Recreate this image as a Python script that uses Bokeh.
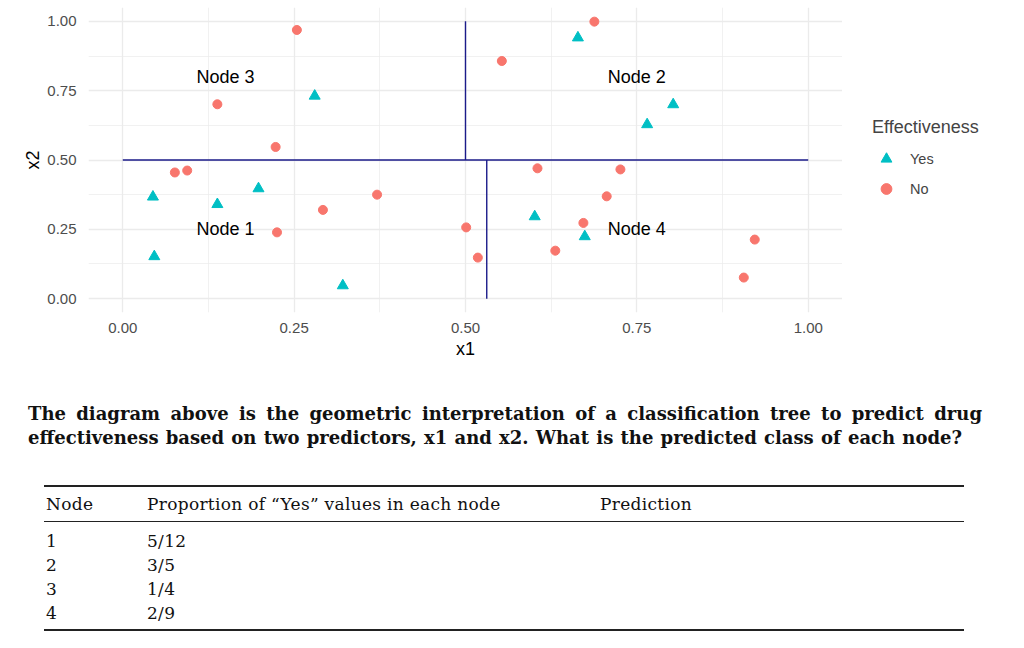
from bokeh.plotting import figure
from bokeh.models import FixedTicker, Legend, LegendItem, Div, Range1d
from bokeh.layouts import column, row
from bokeh.embed import file_html
from bokeh.resources import INLINE
from bokeh.core.properties import value

# ---- data ----
yes_x1 = [0.280, 0.044, 0.138, 0.198, 0.046, 0.321, 0.664, 0.803, 0.765, 0.601, 0.674]
yes_x2 = [0.731, 0.367, 0.340, 0.397, 0.152, 0.047, 0.941, 0.700, 0.628, 0.296, 0.224]
no_x1 = [0.254, 0.138, 0.223, 0.076, 0.094, 0.292, 0.371, 0.225, 0.501, 0.518,
         0.688, 0.553, 0.605, 0.726, 0.706, 0.672, 0.631, 0.922, 0.906]
no_x2 = [0.969, 0.701, 0.547, 0.455, 0.462, 0.320, 0.375, 0.239, 0.257, 0.148,
         0.999, 0.857, 0.470, 0.466, 0.369, 0.273, 0.173, 0.213, 0.076]

split_x0 = [0.0, 0.5, 0.531]
split_y0 = [0.5, 0.5, 0.0]
split_x1 = [1.0, 0.5, 0.531]
split_y1 = [0.5, 1.0, 0.5]

node_labels = ["Node 1", "Node 2", "Node 3", "Node 4"]
node_x = [0.15, 0.75, 0.15, 0.75]
node_y = [0.25, 0.80, 0.80, 0.25]

ticks = [0.0, 0.25, 0.5, 0.75, 1.0]
minor_ticks = [0.125, 0.375, 0.625, 0.875]
tick_labels = ["0.00", "0.25", "0.50", "0.75", "1.00"]

legend_title = "Effectiveness"
class_labels = ["Yes", "No"]

question_line1 = ("The diagram above is the geometric interpretation of a classification "
                  "tree to predict drug")
question_line2 = ("effectiveness based on two predictors, x1 and x2. What is the predicted "
                  "class of each node?")
table_headers = ["Node", "Proportion of \u201cYes\u201d values in each node", "Prediction"]
table_nodes = ["1", "2", "3", "4"]
table_props = ["5/12", "3/5", "1/4", "2/9"]

SANS = "Liberation Sans"
YES_COLOR = "#00BFC4"
NO_COLOR = "#F8766D"

# ---- main plot ----
p = figure(width=842, height=367,
           x_range=Range1d(-0.05, 1.05), y_range=Range1d(-0.05, 1.05),
           output_backend="svg", toolbar_location=None,
           min_border_left=88, min_border_top=7, min_border_bottom=55, min_border_right=0,
           background_fill_color="white", border_fill_color="white",
           outline_line_color=None)

for ax in (p.xaxis[0], p.yaxis[0]):
    ax.ticker = FixedTicker(ticks=ticks, minor_ticks=minor_ticks)
    ax.major_label_overrides = dict(zip(ticks, tick_labels))
    ax.axis_line_color = None
    ax.major_tick_line_color = None
    ax.minor_tick_line_color = None
    ax.major_tick_out = 0
    ax.major_tick_in = 0
    ax.major_label_text_font = SANS
    ax.major_label_text_font_size = "15px"
    ax.major_label_text_color = "#4D4D4D"
    ax.axis_label_text_font = SANS
    ax.axis_label_text_font_style = "normal"
    ax.axis_label_text_font_size = "18px"
    ax.axis_label_text_color = "black"

p.xaxis.axis_label = "x1"
p.yaxis.axis_label = "x2"
p.xaxis.major_label_standoff = 6
p.xaxis.axis_label_standoff = 3
p.yaxis.major_label_standoff = 8
p.yaxis.axis_label_standoff = 1

for g in (p.xgrid[0], p.ygrid[0]):
    g.grid_line_color = "#EBEBEB"
    g.grid_line_width = 1.3
    g.minor_grid_line_color = "#EBEBEB"
    g.minor_grid_line_width = 0.7

p.segment(x0=split_x0, y0=split_y0, x1=split_x1, y1=split_y1,
          line_color="#1B1B8A", line_width=1.4)

p.scatter(no_x1, no_x2, marker="circle", size=9,
          fill_color=NO_COLOR, line_color=NO_COLOR)
p.scatter(yes_x1, yes_x2, marker="triangle", size=11,
          fill_color=YES_COLOR, line_color=YES_COLOR)

p.text(x=node_x, y=node_y, text=node_labels, text_align="center",
       text_baseline="middle", text_font=value(SANS), text_font_size="18px",
       text_color="black")

# ---- legend panel (separate figure to the right of the plot) ----
lf = figure(width=182, height=367, x_range=Range1d(5, 6), y_range=Range1d(5, 6),
            output_backend="svg", toolbar_location=None,
            min_border_left=0, min_border_right=0, min_border_top=0, min_border_bottom=0,
            outline_line_color=None, background_fill_color="white",
            border_fill_color="white")
lf.axis.visible = False
lf.grid.visible = False
# same series, drawn out of this panel's view: only their legend glyphs show
lr_yes = lf.scatter(yes_x1, yes_x2, marker="triangle", size=11,
                    fill_color=YES_COLOR, line_color=YES_COLOR)
lr_no = lf.scatter(no_x1, no_x2, marker="circle", size=9,
                   fill_color=NO_COLOR, line_color=NO_COLOR)

legend = Legend(items=[LegendItem(label=class_labels[0], renderers=[lr_yes]),
                       LegendItem(label=class_labels[1], renderers=[lr_no])],
                title=legend_title, location=(30, 110),
                border_line_color=None, background_fill_alpha=0,
                title_text_font=SANS, title_text_font_style="normal",
                title_text_font_size="18px", title_standoff=7,
                label_text_font=SANS, label_text_font_size="14.5px",
                glyph_width=28, glyph_height=27, label_height=27,
                label_standoff=10, spacing=3, padding=10, margin=0)
lf.add_layout(legend, "center")

# ---- text & table below ----
SERIF = "'DejaVu Serif', serif"
rows_html = ""
for i, (n, pr) in enumerate(zip(table_nodes, table_props)):
    top = 161.5 + 24 * i
    rows_html += (f'<div style="position:absolute;left:46px;top:{top}px;line-height:24px;">{n}</div>'
                  f'<div style="position:absolute;left:147px;top:{top}px;line-height:24px;">{pr}</div>')

html = f"""
<div style="position:relative;width:1024px;height:281px;font-family:{SERIF};color:#111;">
  <div style="position:absolute;left:28px;top:35px;width:954px;font-weight:bold;font-size:18px;
              line-height:24px;text-align:justify;text-align-last:justify;">{question_line1}</div>
  <div style="position:absolute;left:28px;top:59px;width:934px;font-weight:bold;font-size:18px;
              line-height:24px;text-align:justify;text-align-last:justify;">{question_line2}</div>
  <div style="position:absolute;left:44px;top:118px;width:920px;height:2px;background:#222;"></div>
  <div style="font-size:17px;letter-spacing:0.3px;">
    <div style="position:absolute;left:46px;top:125px;line-height:24px;">{table_headers[0]}</div>
    <div style="position:absolute;left:147px;top:125px;line-height:24px;">{table_headers[1]}</div>
    <div style="position:absolute;left:600px;top:125px;line-height:24px;">{table_headers[2]}</div>
    {rows_html}
  </div>
  <div style="position:absolute;left:44px;top:154px;width:920px;height:1px;background:#222;"></div>
  <div style="position:absolute;left:44px;top:262px;width:920px;height:2px;background:#222;"></div>
</div>
"""
div = Div(text=html, width=1024, height=281, margin=0)

layout = column(row(p, lf, spacing=0), div, spacing=0)
with open("out.html", "w", encoding="utf-8") as f:
    f.write(file_html(layout, INLINE))
